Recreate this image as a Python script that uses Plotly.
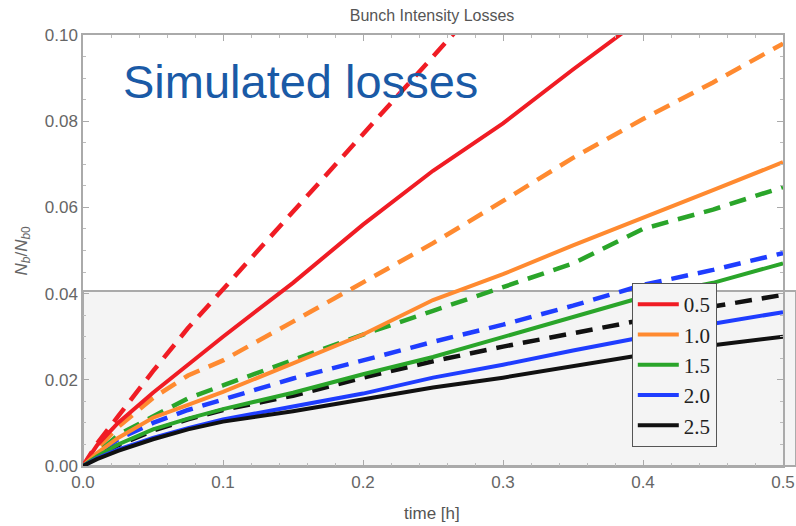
import plotly.graph_objects as go

# time [h]
t = [0, 0.01, 0.025, 0.05, 0.075, 0.1, 0.15, 0.2, 0.25, 0.3, 0.35, 0.4, 0.45, 0.5]

labels = ["0.5", "1.0", "1.5", "2.0", "2.5"]
colors = ["#f01c24", "#ff8a30", "#2aa52a", "#1f3dff", "#111111"]

solid_05 = [0, 0.0048, 0.0100, 0.0170, 0.0235, 0.0300, 0.0425, 0.0560, 0.0685, 0.0795, 0.0920, 0.1040, 0.1150, 0.1260]
solid_10 = [0, 0.0030, 0.0065, 0.0112, 0.0142, 0.0172, 0.0238, 0.0305, 0.0385, 0.0445, 0.0512, 0.0575, 0.0640, 0.0705]
solid_15 = [0, 0.0022, 0.0050, 0.0085, 0.0110, 0.0132, 0.0170, 0.0213, 0.0253, 0.0300, 0.0345, 0.0392, 0.0425, 0.0470]
solid_20 = [0, 0.0018, 0.0038, 0.0065, 0.0088, 0.0108, 0.0138, 0.0168, 0.0205, 0.0235, 0.0268, 0.0300, 0.0330, 0.0357]
solid_25 = [0, 0.0016, 0.0035, 0.0062, 0.0085, 0.0103, 0.0127, 0.0155, 0.0182, 0.0205, 0.0232, 0.0258, 0.0280, 0.0300]

dash_05 = [0, 0.0052, 0.0115, 0.0220, 0.0320, 0.0410, 0.0590, 0.0770, 0.0950, 0.1130, 0.1300, 0.1480, 0.1650, 0.1820]
dash_10 = [0, 0.0040, 0.0090, 0.0158, 0.0210, 0.0245, 0.0335, 0.0425, 0.0517, 0.0615, 0.0715, 0.0805, 0.0890, 0.0980]
dash_15 = [0, 0.0030, 0.0072, 0.0115, 0.0157, 0.0187, 0.0245, 0.0305, 0.0360, 0.0415, 0.0470, 0.0550, 0.0595, 0.0647]
dash_20 = [0, 0.0028, 0.0062, 0.0100, 0.0130, 0.0155, 0.0203, 0.0245, 0.0288, 0.0328, 0.0372, 0.0420, 0.0455, 0.0494]
dash_25 = [0, 0.0022, 0.0048, 0.0082, 0.0108, 0.0130, 0.0163, 0.0205, 0.0243, 0.0277, 0.0308, 0.0340, 0.0370, 0.0397]

solids = [solid_05, solid_10, solid_15, solid_20, solid_25]
dashes = [dash_05, dash_10, dash_15, dash_20, dash_25]

fig = go.Figure()
for lab, col, d in zip(labels, colors, dashes):
    fig.add_trace(go.Scatter(x=t, y=d, mode="lines", showlegend=False,
                             line=dict(color=col, width=4.5, dash="17px,10px"),
                             name=lab + " dashed"))
for lab, col, s in zip(labels, colors, solids):
    fig.add_trace(go.Scatter(x=t, y=s, mode="lines", name=lab,
                             line=dict(color=col, width=4)))

axis_common = dict(showline=True, linecolor="#aaaaaa", linewidth=1.5, mirror="ticks",
                   ticks="inside", ticklen=6, tickcolor="#aaaaaa", showgrid=False,
                   zeroline=False, automargin=False,
                   tickfont=dict(family="Liberation Sans, Arial", size=17, color="#666666"))

fig.update_xaxes(range=[0, 0.5], tickvals=[0, 0.1, 0.2, 0.3, 0.4, 0.5],
                 ticktext=["0.0", "0.1", "0.2", "0.3", "0.4", "0.5"],
                 minor=dict(ticks="inside", ticklen=3, dtick=0.02, tickcolor="#bbbbbb"),
                 **axis_common)
fig.update_yaxes(range=[0, 0.1], tickvals=[0, 0.02, 0.04, 0.06, 0.08, 0.10],
                 ticktext=["0.00", "0.02", "0.04", "0.06", "0.08", "0.10"],
                 minor=dict(ticks="inside", ticklen=3, dtick=0.005, tickcolor="#bbbbbb"),
                 **axis_common)

fig.update_layout(
    width=796, height=526,
    margin=dict(l=83, r=13, t=35, b=60, autoexpand=False),
    paper_bgcolor="white", plot_bgcolor="white",
    title=dict(text="Bunch Intensity Losses", x=0.5428, xanchor="center",
               y=1 - 15 / 526, yanchor="middle",
               font=dict(family="Liberation Sans, Arial", size=16, color="#555555")),
    legend=dict(x=0.784, y=0.4246, xanchor="left", yanchor="top",
                bgcolor="#f4f4f4", bordercolor="#555555", borderwidth=1,
                font=dict(family="Liberation Serif, Times New Roman", size=21, color="#222222"),
                itemwidth=41, tracegroupgap=0),
    shapes=[dict(type="rect", xref="paper", yref="paper", x0=0, x1=1.0186, y0=0, y1=0.406,
                 fillcolor="#f4f4f4", line=dict(color="#aaaaaa", width=2), layer="below")],
    annotations=[
        dict(text="Simulated losses", xref="paper", yref="paper", x=(121 - 83) / 700, y=0.891,
             xanchor="left", yanchor="middle", showarrow=False,
             font=dict(family="Liberation Sans, Arial", size=47, color="#1a5aa6")),
        dict(text="<i>N</i><sub><i>b</i></sub>/<i>N</i><sub><i>b</i>0</sub>", xref="paper", yref="paper",
             x=(22 - 83) / 700, y=0.5, textangle=-90, showarrow=False,
             xanchor="center", yanchor="middle",
             font=dict(family="Liberation Sans, Arial", size=17, color="#666666")),
        dict(text="time [h]", xref="paper", yref="paper", x=(432 - 83) / 700, y=(466 - 513) / 431,
             showarrow=False, xanchor="center", yanchor="middle",
             font=dict(family="Liberation Sans, Arial", size=17, color="#555555")),
    ],
)

fig.write_html("out.html")
